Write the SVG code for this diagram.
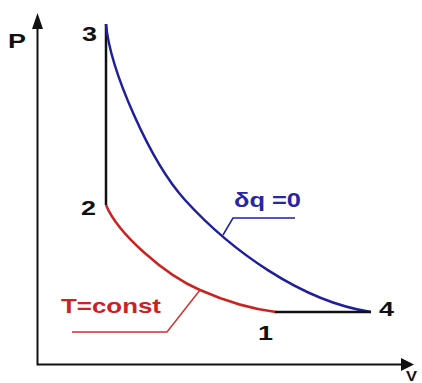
<svg xmlns="http://www.w3.org/2000/svg" width="422" height="383" viewBox="0 0 422 383">
<style>
.lbl{font-family:"Liberation Sans",Arial,sans-serif;font-weight:bold;font-size:21px;fill:#111}
.blue{fill:#2626a6}
.red{fill:#cc2222}
.ax{stroke:#111;stroke-width:2;fill:none}
.iso{stroke:#111;stroke-width:2.5;fill:none}
.adi{stroke:#1f1f9c;stroke-width:2.5;fill:none}
.tc{stroke:#cc2222;stroke-width:2.5;fill:none}
.ldb{stroke:#1f1f9c;stroke-width:1.5;fill:none}
.ldr{stroke:#cc3333;stroke-width:1.5;fill:none}
</style>
<rect width="422" height="383" fill="#ffffff"/>
<g id="axes">
<path class="ax" d="M37.5,28 V364.5 H402"/>
<polygon points="37.5,13 32,29 43,29" fill="#111"/>
<polygon points="414,364.5 401,358 401,371" fill="#111"/>
<text class="lbl" x="8" y="48" textLength="18" lengthAdjust="spacingAndGlyphs">P</text>
<text class="lbl" x="406" y="381" style="font-size:14px" textLength="11" lengthAdjust="spacingAndGlyphs">V</text>
</g>
<g id="connectors">
<path class="iso" d="M106,205 V24"/>
<path class="adi" d="M106,24 C110,70 150,161.5 185,200 C230,249.5 301,301.5 371,312"/>
<path class="tc" d="M106,205 C118,234 165,275 200,290 C225,301 251,309 276,312"/>
<path class="iso" d="M275,312 H371"/>
</g>
<g id="state-1"><text class="lbl" x="258" y="340" textLength="15" lengthAdjust="spacingAndGlyphs">1</text></g>
<g id="state-2"><text class="lbl" x="81" y="215" textLength="15" lengthAdjust="spacingAndGlyphs">2</text></g>
<g id="state-3"><text class="lbl" x="82" y="41" textLength="15" lengthAdjust="spacingAndGlyphs">3</text></g>
<g id="state-4"><text class="lbl" x="379" y="316" textLength="15" lengthAdjust="spacingAndGlyphs">4</text></g>
<g id="label-adiabatic">
<path class="ldb" d="M223,235 L233,218 H295"/>
<text class="lbl blue" x="234" y="207" textLength="67" lengthAdjust="spacingAndGlyphs">δq =0</text>
</g>
<g id="label-isotherm">
<path class="ldr" d="M200,290 L167,332 H72"/>
<text class="lbl red" x="61" y="313" textLength="100" lengthAdjust="spacingAndGlyphs">T=const</text>
</g>
</svg>
